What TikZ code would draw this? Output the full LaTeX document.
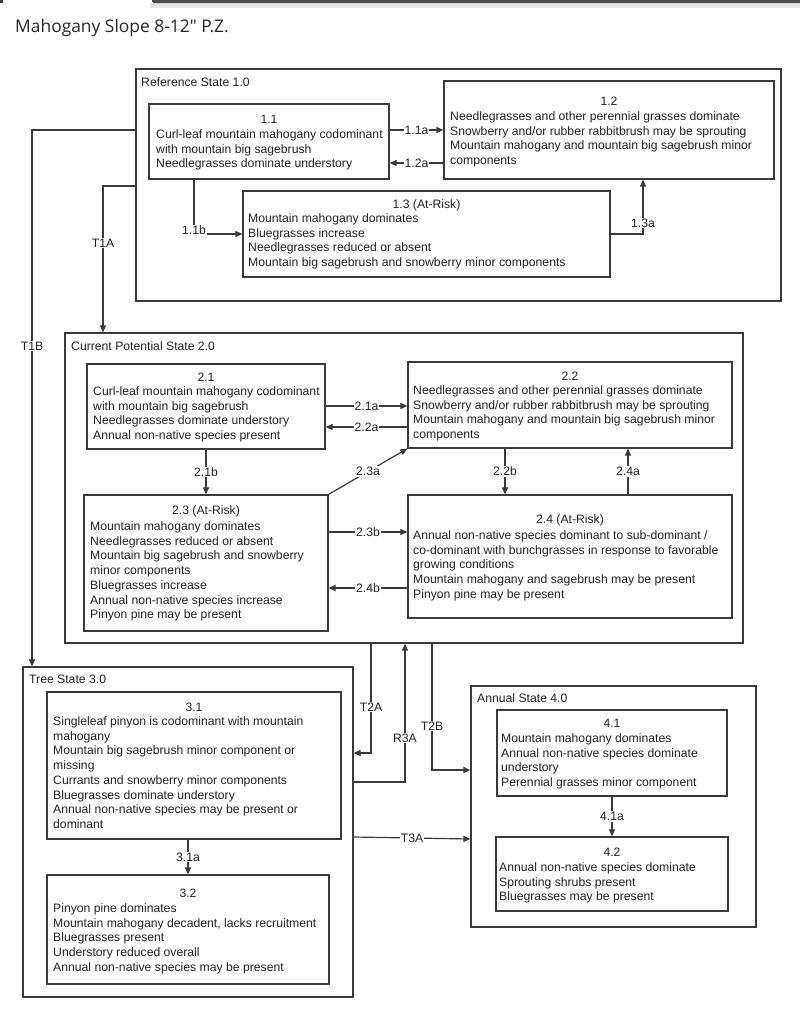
\documentclass[tikz,border=0pt]{standalone}
\usepackage{fontspec}
\setmainfont{Liberation Sans}
\newfontfamily\titlef{Open Sans}
\usetikzlibrary{arrows.meta,fit,calc}
\definecolor{linec}{HTML}{3A3A3A}
\definecolor{textc}{HTML}{222222}
\begin{document}
\begin{tikzpicture}[x=1pt,y=-1pt,
  every node/.style={text=textc},
  bx/.style={draw=linec, line width=1.2pt, inner sep=0pt},
  txt/.style={font=\fontsize{12.2}{14.7}\selectfont, align=left, anchor=north west, inner sep=0pt},
  ttl/.style={font=\fontsize{12.2}{14.7}\selectfont, inner sep=0pt},
  slab/.style={font=\fontsize{12.2}{14.7}\selectfont, anchor=west, inner sep=0pt},
  lab/.style={font=\fontsize{12.2}{14.7}\selectfont, fill=white, inner sep=1pt},
  con/.style={draw=linec, line width=1.2pt},
  arr/.style={con, -{Triangle[length=7pt,width=6pt]}}
]
\useasboundingbox (0,0) rectangle (800,1009);
% top bar
\fill[black!10] (150,3) rectangle (800,8);
\fill[black!70, rounded corners=1.5pt] (152,-3) rectangle (803,3.2);
\fill[black!75] (0,0) rectangle (2.5,3);

\node[font=\titlef\fontsize{17.4}{20}\selectfont, anchor=west, inner sep=0pt, text=black!85] (title) at (15,28) {Mahogany Slope 8-12" P.Z.};

% ---------- State 1 ----------
\node[bx, fit={(136,69) (781,301)}] (s1) {};
\node[slab] (s1l) at (141,82) {Reference State 1.0};
\node[bx, fit={(149,104) (389,179)}] (b11) {};
\node[ttl] (h11) at (269,119) {1.1};
\node[txt] (t11) at (156,129.5) {Curl-leaf mountain mahogany codominant\\with mountain big sagebrush\\Needlegrasses dominate understory};
\node[bx, fit={(444,81) (774,179)}] (b12) {};
\node[ttl] (h12) at (609,101) {1.2};
\node[txt] (t12) at (450,111.5) {Needlegrasses and other perennial grasses dominate\\Snowberry and/or rubber rabbitbrush may be sprouting\\Mountain mahogany and mountain big sagebrush minor\\components};
\node[bx, fit={(243,191) (610,277)}] (b13) {};
\node[ttl] (h13) at (426.5,205) {1.3 (At-Risk)};
\node[txt] (t13) at (248,213.5) {Mountain mahogany dominates\\Bluegrasses increase\\Needlegrasses reduced or absent\\Mountain big sagebrush and snowberry minor components};

% ---------- State 2 ----------
\node[bx, fit={(65,333) (743,643)}] (s2) {};
\node[slab] (s2l) at (71,346) {Current Potential State 2.0};
\node[bx, fit={(87,364) (325,449)}] (b21) {};
\node[ttl] (h21) at (206,377) {2.1};
\node[txt] (t21) at (93,386.5) {Curl-leaf mountain mahogany codominant\\with mountain big sagebrush\\Needlegrasses dominate understory\\Annual non-native species present};
\node[bx, fit={(408,362) (732,448)}] (b22) {};
\node[ttl] (h22) at (570,376) {2.2};
\node[txt] (t22) at (413,385.5) {Needlegrasses and other perennial grasses dominate\\Snowberry and/or rubber rabbitbrush may be sprouting\\Mountain mahogany and mountain big sagebrush minor\\components};
\node[bx, fit={(84,495) (328,631)}] (b23) {};
\node[ttl] (h23) at (206,511) {2.3 (At-Risk)};
\node[txt] (t23) at (90,521.5) {Mountain mahogany dominates\\Needlegrasses reduced or absent\\Mountain big sagebrush and snowberry\\minor components\\Bluegrasses increase\\Annual non-native species increase\\Pinyon pine may be present};
\node[bx, fit={(408,495) (732,618)}] (b24) {};
\node[ttl] (h24) at (570,520) {2.4 (At-Risk)};
\node[txt] (t24) at (413,530.5) {Annual non-native species dominant to sub-dominant /\\co-dominant with bunchgrasses in response to favorable\\growing conditions\\Mountain mahogany and sagebrush may be present\\Pinyon pine may be present};

% ---------- State 3 ----------
\node[bx, fit={(23,667) (353,997)}] (s3) {};
\node[slab] (s3l) at (29,679) {Tree State 3.0};
\node[bx, fit={(47,692) (341,839)}] (b31) {};
\node[ttl] (h31) at (194,707) {3.1};
\node[txt] (t31) at (53,716.5) {Singleleaf pinyon is codominant with mountain\\mahogany\\Mountain big sagebrush minor component or\\missing\\Currants and snowberry minor components\\Bluegrasses dominate understory\\Annual non-native species may be present or\\dominant};
\node[bx, fit={(47,875) (329,984)}] (b32) {};
\node[ttl] (h32) at (188,893) {3.2};
\node[txt] (t32) at (53,903.5) {Pinyon pine dominates\\Mountain mahogany decadent, lacks recruitment\\Bluegrasses present\\Understory reduced overall\\Annual non-native species may be present};

% ---------- State 4 ----------
\node[bx, fit={(471,686) (756,927)}] (s4) {};
\node[slab] (s4l) at (477,698) {Annual State 4.0};
\node[bx, fit={(497,710) (727,796)}] (b41) {};
\node[ttl] (h41) at (612,723) {4.1};
\node[txt] (t41) at (501,733.5) {Mountain mahogany dominates\\Annual non-native species dominate\\understory\\Perennial grasses minor component};
\node[bx, fit={(496,837) (728,911)}] (b42) {};
\node[ttl] (h42) at (612,852) {4.2};
\node[txt] (t42) at (499,862.5) {Annual non-native species dominate\\Sprouting shrubs present\\Bluegrasses may be present};

% ---------- connectors state 1 ----------
\draw[arr] (b11.east |- 0,130) -- node[lab] (l11a) {1.1a} (b12.west |- 0,130);
\draw[arr] (b12.west |- 0,163) -- node[lab] (l12a) {1.2a} (b11.east |- 0,163);
\draw[arr] (b11.south -| 194,0) |- (b13.west |- 0,234);
\node[lab] (l11b) at (194,230) {1.1b};
\draw[arr] (b13.east |- 0,234) -| (b12.south -| 643,0);
\node[lab] (l13a) at (643,223) {1.3a};

% ---------- connectors state 2 ----------
\draw[arr] (b21.east |- 0,406) -- node[lab] (l21a) {2.1a} (b22.west |- 0,406);
\draw[arr] (b22.west |- 0,427) -- node[lab] (l22a) {2.2a} (b21.east |- 0,427);
\draw[arr] (b21.south) -- node[lab] (l21b) {2.1b} (b23.north);
\draw[arr] (b23.north east) -- node[lab] (l23a) {2.3a} (b22.south west);
\draw[arr] (b22.south -| 505,0) -- node[lab] (l22b) {2.2b} (b24.north -| 505,0);
\draw[arr] (b24.north -| 628,0) -- node[lab] (l24a) {2.4a} (b22.south -| 628,0);
\draw[arr] (b23.east |- 0,532) -- node[lab] (l23b) {2.3b} (b24.west |- 0,532);
\draw[arr] (b24.west |- 0,588) -- node[lab] (l24b) {2.4b} (b23.east |- 0,588);

% ---------- state transitions ----------
\draw[arr] (s1.west |- 0,130) -| (s3.north -| 32,0);
\node[lab] (lT1B) at (32,346) {T1B};
\draw[arr] (s1.west |- 0,186) -| (s2.north -| 103,0);
\node[lab] (lT1A) at (103,243) {T1A};
\draw[arr] (s2.south -| 371,0) |- (s3.east |- 0,753);
\node[lab] (lT2A) at (371,707) {T2A};
\draw[arr] (s3.east |- 0,782) -| (s2.south -| 405,0);
\node[lab] (lR3A) at (405,738) {R3A};
\draw[arr] (s2.south -| 432,0) |- (s4.west |- 0,770);
\node[lab] (lT2B) at (432,726) {T2B};
\draw[arr] (s3.east |- 0,837) -- node[lab] (lT3A) {T3A} (s4.west |- 0,839);

% ---------- connectors state 3 / 4 ----------
\draw[arr] (b31.south -| 188,0) -- node[lab] (l31a) {3.1a} (b32.north -| 188,0);
\draw[arr] (b41.south -| 612,0) -- node[lab] (l41a) {4.1a} (b42.north -| 612,0);
\end{tikzpicture}
\end{document}
